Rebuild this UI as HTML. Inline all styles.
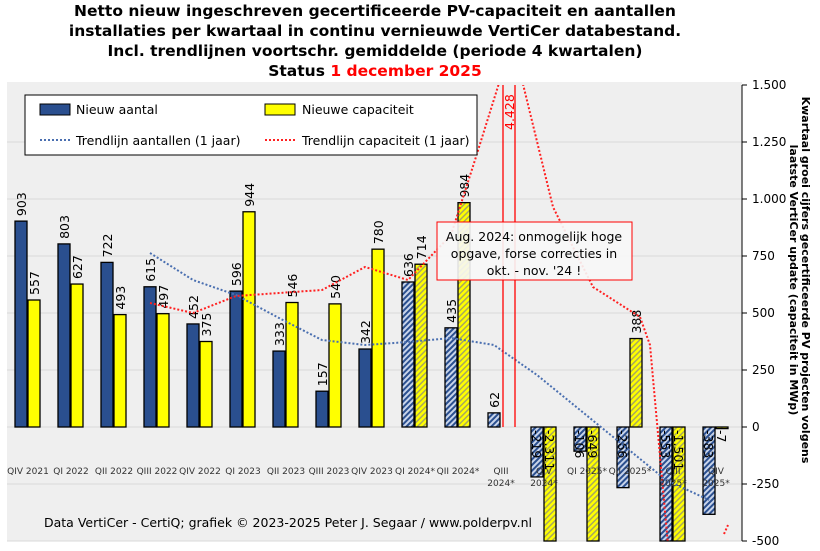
<!DOCTYPE html>
<html><head><meta charset="utf-8"><style>body{margin:0;background:#fff}svg{display:block}text{font-family:"DejaVu Sans","Liberation Sans",sans-serif}</style></head><body>
<svg width="820" height="551" xmlns="http://www.w3.org/2000/svg">
<defs>
<pattern id="hb" width="4" height="4" patternUnits="userSpaceOnUse" patternTransform="rotate(45)"><rect width="4" height="4" fill="#c8d4ea"/><rect width="2" height="4" fill="#2a4f8f"/></pattern>
<pattern id="hy" width="4" height="4" patternUnits="userSpaceOnUse" patternTransform="rotate(45)"><rect width="4" height="4" fill="#ffff00"/><rect width="1.5" height="4" fill="#a8a860"/></pattern>
<clipPath id="pc"><rect x="7" y="85" width="735" height="456"/></clipPath>
</defs>
<rect x="7" y="82" width="735" height="459" fill="#efefef"/>
<g stroke="#d8d8d8" stroke-width="1">
<line x1="7" x2="742" y1="142" y2="142"/><line x1="7" x2="742" y1="199" y2="199"/><line x1="7" x2="742" y1="256" y2="256"/><line x1="7" x2="742" y1="313" y2="313"/><line x1="7" x2="742" y1="370" y2="370"/><line x1="7" x2="742" y1="427" y2="427"/><line x1="7" x2="742" y1="484" y2="484"/><line x1="7" x2="742" y1="541" y2="541"/>
</g>
<g font-weight="bold" font-size="15.5" text-anchor="middle" fill="#000">
<text x="375" y="16">Netto nieuw ingeschreven gecertificeerde PV-capaciteit en aantallen</text>
<text x="375" y="36">installaties per kwartaal in continu vernieuwde VertiCer databestand.</text>
<text x="375" y="56">Incl. trendlijnen voortschr. gemiddelde (periode 4 kwartalen)</text>
<text x="375" y="76">Status <tspan fill="#ff0000">1 december 2025</tspan></text>
</g>
<g id="bars" stroke="#000" stroke-width="1.3"></g>
<g id="lbl" font-size="12.5" fill="#000"></g>
<g clip-path="url(#pc)" fill="none" stroke-width="2" stroke-dasharray="2,2">
<polyline stroke="#4a6fb0" points="150,253 193,280 236,295 279,318 322,340 365,345 408,342 451,338 494,345 537,375 580,410 623,445 666,480 709,500"/>
<polyline stroke="#ff2020" points="150,303 193,313 236,296 279,293 322,290 365,267 408,280 451,235 475,160 500,80"/>
<polyline stroke="#ff2020" points="522,80 553,207 593,287 640,317 650,345 668,545"/>
<polyline stroke="#ff2020" points="724,534 728,525"/>
</g>
<line x1="503" x2="503" y1="85" y2="427" stroke="#ff0000" stroke-width="1.3"/>
<line x1="515" x2="515" y1="85" y2="427" stroke="#ff0000" stroke-width="1.3"/>
<text transform="translate(514,130) rotate(-90)" font-size="12.5" fill="#ff0000">4.428</text>
<rect x="25" y="95" width="452" height="60" fill="#fff" stroke="#000" stroke-width="1"/>
<rect x="40" y="104" width="30" height="11" fill="#2a4f8f" stroke="#000"/>
<text x="76" y="114" font-size="12.5">Nieuw aantal</text>
<rect x="265" y="104" width="30" height="11" fill="#ffff00" stroke="#000"/>
<text x="302" y="114" font-size="12.5">Nieuwe capaciteit</text>
<line x1="40" x2="70" y1="140" y2="140" stroke="#4a6fb0" stroke-width="2" stroke-dasharray="2,2"/>
<text x="76" y="145" font-size="12.5">Trendlijn aantallen (1 jaar)</text>
<line x1="265" x2="295" y1="140" y2="140" stroke="#ff2020" stroke-width="2" stroke-dasharray="2,2"/>
<text x="302" y="145" font-size="12.5">Trendlijn capaciteit (1 jaar)</text>
<rect x="437" y="222" width="195" height="58" fill="#f7f7f7" fill-opacity="0.9" stroke="#ff0000" stroke-width="1"/>
<g font-size="12.5" text-anchor="middle"><text x="534" y="241">Aug. 2024: onmogelijk hoge</text><text x="534" y="258">opgave, forse correcties in</text><text x="534" y="275">okt. - nov. '24 !</text></g>
<line x1="742" x2="742" y1="85" y2="541" stroke="#000"/>
<g font-size="12" id="rt"></g>
<g font-size="9" font-family="Liberation Serif" text-anchor="middle" fill="#333" id="xl"></g>
<text x="44" y="527" font-size="12.5">Data VertiCer - CertiQ; grafiek © 2023-2025 Peter J. Segaar / www.polderpv.nl</text>
<g font-weight="bold" font-size="11" text-anchor="middle">
<text transform="translate(802,280) rotate(90)">Kwartaal groei cijfers gecertificeerde PV projecten volgens</text>
<text transform="translate(790,280) rotate(90)">laatste VertiCer update (capaciteit in MWp)</text>
</g>
<script>
var ns="http://www.w3.org/2000/svg";
function el(p,t,a,tx){var e=document.createElementNS(ns,t);for(var k in a)e.setAttribute(k,a[k]);if(tx!=null)e.textContent=tx;document.getElementById(p).appendChild(e);return e;}
function Y(v){return 427-v*0.228;}
var B=[903,803,722,615,452,596,333,157,342,636,435,62,-219,-106,-266,-553,-383];
var C=[557,627,493,497,375,944,546,540,780,714,984,null,-2311,-649,388,-1501,-7];
var L=[["QIV 2021"],["QI 2022"],["QII 2022"],["QIII 2022"],["QIV 2022"],["QI 2023"],["QII 2023"],["QIII 2023"],["QIV 2023"],["QI 2024*"],["QII 2024*"],["QIII","2024*"],["QIV","2024*"],["QI 2025*"],["QII 2025*"],["QIII","2025*"],["QIV","2025*"]];
function bar(x,v,fill){var y0=Y(Math.max(v,0)),y1=Y(Math.min(v,0));y0=Math.max(y0,85);y1=Math.min(y1,541);el("bars","rect",{x:x,y:y0,width:12,height:y1-y0,fill:fill});}
function lab(x,v){var s=String(v);if(v>=0){el("lbl","text",{transform:"translate("+(x+11)+","+(Y(v)-5)+") rotate(-90)"},s);}else{el("lbl","text",{transform:"translate("+(x+1)+","+(Y(0)+3)+") rotate(90)"},(v<=-1000?"-"+(-v/1000|0)+"."+String(-v%1000).padStart(3,"0"):s));}}
for(var i=0;i<17;i++){var c=28+i*43,h=i>=9;
bar(c-13,B[i],h?"url(#hb)":"#2a4f8f");lab(c-13,B[i]);
if(C[i]!=null){bar(c,C[i],h?"url(#hy)":"#ffff00");lab(c,C[i]);}
el("xl","text",{x:c,y:474},L[i][0]);if(L[i].length>1)el("xl","text",{x:c,y:486},L[i][1]);}
var T=[[1500,"1.500"],[1250,"1.250"],[1000,"1.000"],[750,"750"],[500,"500"],[250,"250"],[0,"0"],[-250,"-250"],[-500,"-500"]];
T.forEach(function(t){var y=Y(t[0]);el("rt","line",{x1:742,x2:747,y1:y,y2:y,stroke:"#000"});el("rt","text",{x:752,y:y+4},t[1]);});
</script>
</svg>
</body></html>
